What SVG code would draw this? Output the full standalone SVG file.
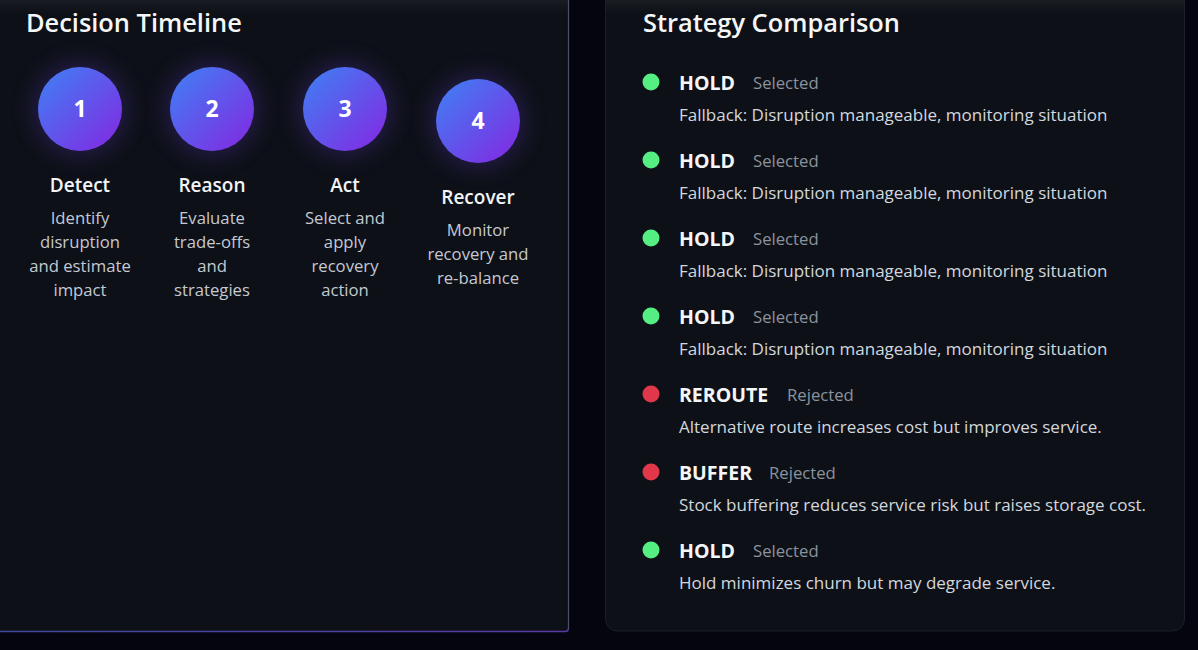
<svg xmlns="http://www.w3.org/2000/svg" width="1198" height="650" viewBox="0 0 1198 650">
<defs>
<style>
.t{font-family:"Open Sans","Noto Sans",sans-serif}
.title{font-size:25.4px;font-weight:600;fill:#f5f6f8}
.num{font-size:23px;font-weight:700;fill:#ffffff;text-anchor:middle}
.sh{font-size:19px;font-weight:600;fill:#f3f4f6;text-anchor:middle}
.sd{font-size:16.7px;fill:#c4c9d2;text-anchor:middle}
.nm{font-size:19.5px;font-weight:700;fill:#f5f6f8}
.st{font-size:16.7px;fill:#8c929c}
.ds{font-size:17px;fill:#d3d7de}
.ok{fill:#55ee83}
.bad{fill:#e0374a}
</style>
<linearGradient id="cg" x1="0" y1="0" x2="1" y2="1">
<stop offset="0" stop-color="#3d82f4"/>
<stop offset="1" stop-color="#8526e2"/>
</linearGradient>
<linearGradient id="bl" x1="0" y1="0" x2="1" y2="0">
<stop offset="0" stop-color="#3c4a9a"/>
<stop offset="1" stop-color="#5a3aa6"/>
</linearGradient>
<linearGradient id="topg" x1="0" y1="0" x2="0" y2="1">
<stop offset="0" stop-color="#ffffff" stop-opacity="0.05"/>
<stop offset="1" stop-color="#ffffff" stop-opacity="0"/>
</linearGradient>
<filter id="glow" x="-1" y="-1" width="3" height="3">
<feGaussianBlur stdDeviation="12"/>
</filter>
</defs>
<rect x="0" y="0" width="1198" height="650" fill="#05050f"/>

<g id="timeline-panel">
<rect x="-4" y="-20" width="572.5" height="651" fill="#0d1017"/>
<rect x="-4" y="0" width="572.5" height="14" fill="url(#topg)"/>
<line x1="568.5" y1="-2" x2="568.5" y2="629" stroke="#4a5066" stroke-width="1.2"/>
<path d="M-2 631.5 H565 Q568.5 631.5 568.5 628" fill="none" stroke="url(#bl)" stroke-width="1.4"/>
<text class="t title" x="26" y="32">Decision Timeline</text>
</g>

<g id="step-1">
<circle cx="80" cy="109" r="46" fill="#6a3ee0" opacity="0.28" filter="url(#glow)"/>
<circle cx="80" cy="109" r="42" fill="url(#cg)"/>
<text class="t num" x="80" y="117">1</text>
<text class="t sh" x="80" y="192">Detect</text>
<text class="t sd" x="80" y="224">Identify</text>
<text class="t sd" x="80" y="248">disruption</text>
<text class="t sd" x="80" y="272">and estimate</text>
<text class="t sd" x="80" y="296">impact</text>
</g>
<g id="step-2">
<circle cx="212" cy="109" r="46" fill="#6a3ee0" opacity="0.28" filter="url(#glow)"/>
<circle cx="212" cy="109" r="42" fill="url(#cg)"/>
<text class="t num" x="212" y="117">2</text>
<text class="t sh" x="212" y="192">Reason</text>
<text class="t sd" x="212" y="224">Evaluate</text>
<text class="t sd" x="212" y="248">trade-offs</text>
<text class="t sd" x="212" y="272">and</text>
<text class="t sd" x="212" y="296">strategies</text>
</g>
<g id="step-3">
<circle cx="345" cy="109" r="46" fill="#6a3ee0" opacity="0.28" filter="url(#glow)"/>
<circle cx="345" cy="109" r="42" fill="url(#cg)"/>
<text class="t num" x="345" y="117">3</text>
<text class="t sh" x="345" y="192">Act</text>
<text class="t sd" x="345" y="224">Select and</text>
<text class="t sd" x="345" y="248">apply</text>
<text class="t sd" x="345" y="272">recovery</text>
<text class="t sd" x="345" y="296">action</text>
</g>
<g id="step-4">
<circle cx="478" cy="121" r="46" fill="#6a3ee0" opacity="0.28" filter="url(#glow)"/>
<circle cx="478" cy="121" r="42" fill="url(#cg)"/>
<text class="t num" x="478" y="129">4</text>
<text class="t sh" x="478" y="204">Recover</text>
<text class="t sd" x="478" y="236">Monitor</text>
<text class="t sd" x="478" y="260">recovery and</text>
<text class="t sd" x="478" y="284">re-balance</text>
</g>

<g id="strategy-panel">
<rect x="605.5" y="-20" width="579" height="651" rx="12" fill="#0d1117" stroke="#1b202b" stroke-width="1"/>
<rect x="606" y="0" width="578" height="14" fill="url(#topg)"/>
<text class="t title" x="643" y="32">Strategy Comparison</text>
</g>

<g id="strategy-1">
<circle class="ok" cx="651" cy="82" r="8.5"/>
<text class="t nm" x="679" y="90">HOLD</text>
<text class="t st" x="753" y="89">Selected</text>
<text class="t ds" x="679" y="121">Fallback: Disruption manageable, monitoring situation</text>
</g>
<g id="strategy-2">
<circle class="ok" cx="651" cy="160" r="8.5"/>
<text class="t nm" x="679" y="168">HOLD</text>
<text class="t st" x="753" y="167">Selected</text>
<text class="t ds" x="679" y="199">Fallback: Disruption manageable, monitoring situation</text>
</g>
<g id="strategy-3">
<circle class="ok" cx="651" cy="238" r="8.5"/>
<text class="t nm" x="679" y="246">HOLD</text>
<text class="t st" x="753" y="245">Selected</text>
<text class="t ds" x="679" y="277">Fallback: Disruption manageable, monitoring situation</text>
</g>
<g id="strategy-4">
<circle class="ok" cx="651" cy="316" r="8.5"/>
<text class="t nm" x="679" y="324">HOLD</text>
<text class="t st" x="753" y="323">Selected</text>
<text class="t ds" x="679" y="355">Fallback: Disruption manageable, monitoring situation</text>
</g>
<g id="strategy-5">
<circle class="bad" cx="651" cy="394" r="8.5"/>
<text class="t nm" x="679" y="402">REROUTE</text>
<text class="t st" x="787" y="401">Rejected</text>
<text class="t ds" x="679" y="433">Alternative route increases cost but improves service.</text>
</g>
<g id="strategy-6">
<circle class="bad" cx="651" cy="472" r="8.5"/>
<text class="t nm" x="679" y="480">BUFFER</text>
<text class="t st" x="769" y="479">Rejected</text>
<text class="t ds" x="679" y="511">Stock buffering reduces service risk but raises storage cost.</text>
</g>
<g id="strategy-7">
<circle class="ok" cx="651" cy="550" r="8.5"/>
<text class="t nm" x="679" y="558">HOLD</text>
<text class="t st" x="753" y="557">Selected</text>
<text class="t ds" x="679" y="589">Hold minimizes churn but may degrade service.</text>
</g>

<g id="connectors"/>
</svg>
